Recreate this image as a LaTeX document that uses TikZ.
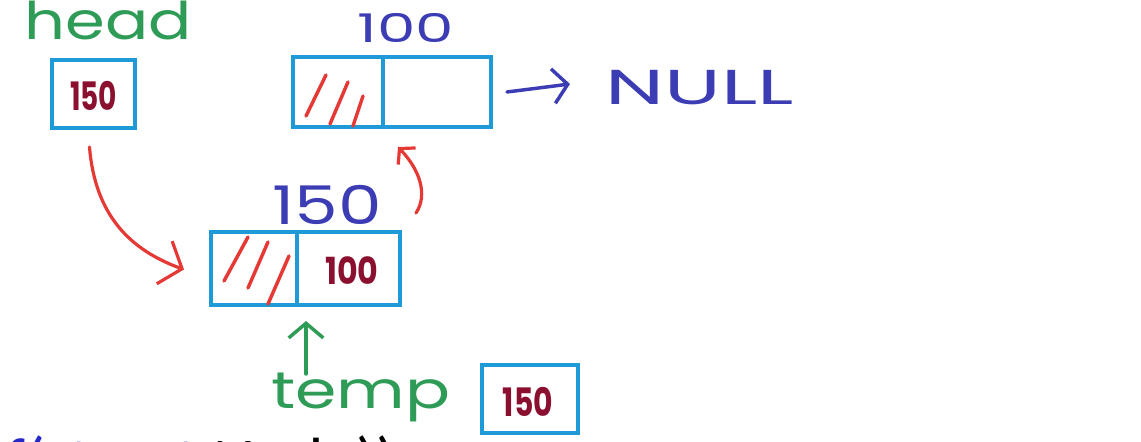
\documentclass[tikz,border=0pt]{standalone}
\usepackage{fontspec}
\setmainfont{Poppins}
\newfontfamily\codefont{Carlito}
\usetikzlibrary{arrows.meta,calc}
\definecolor{boxblue}{RGB}{30,154,214}
\definecolor{inkred}{RGB}{229,57,53}
\definecolor{darkred}{RGB}{139,16,48}
\definecolor{inkblue}{RGB}{60,60,180}
\definecolor{inkgreen}{RGB}{46,155,87}
\definecolor{codeblue}{RGB}{40,40,200}
\newcommand{\hw}[3]{\scalebox{#1}[#2]{#3}}
\begin{document}
\begin{tikzpicture}[x=0.75pt,y=-0.75pt,
  cell/.style={draw=boxblue, line width=3pt, inner sep=0pt, rectangle},
  hatch/.style={draw=inkred, line width=2.6pt, line cap=round},
  redarrow/.style={draw=inkred, line width=2.4pt, line cap=round, line join=round},
  bluearrow/.style={draw=inkblue, line width=2.6pt, line cap=round, line join=round},
  greenarrow/.style={draw=inkgreen, line width=2.6pt, line cap=round, line join=round},
  greentext/.style={text=inkgreen, inner sep=0pt},
  bluetext/.style={text=inkblue, inner sep=0pt},
  valtext/.style={text=darkred, inner sep=0pt, font=\fontsize{28}{28}\selectfont\bfseries}]
\useasboundingbox (0,0) rectangle (1141,442);

% head pointer
\node[greentext, font=\fontsize{30}{30}\selectfont] (headlbl) at (108,20) {\hw{1.6}{1.3}{head}};
\node[cell, minimum width=62.25pt, minimum height=51pt] (headbox) at (93.5,94) {};
\node[valtext] (headval) at (93.5,96) {\hw{0.75}{1.05}{150}};

% node at 100
\node[bluetext, font=\fontsize{27}{27}\selectfont] (lbl100) at (406,28) {\hw{1.7}{1.1}{100}};
\node[cell, minimum width=67.5pt, minimum height=52.5pt] (n100l) at (338,92) {};
\node[cell, minimum width=81pt, minimum height=52.5pt] (n100r) at (437,92) {};
\draw[hatch] (306,116) -- (326,75);
\draw[hatch] (330,124) -- (348,82);
\draw[hatch] (353,126) -- (363,96);

% NULL
\node[bluetext, font=\fontsize{35}{35}\selectfont, anchor=west] (null) at (605,88) {\hw{1.8}{1.05}{NULL}};
\draw[bluearrow, -{Straight Barb[length=11pt,width=26pt]}] ($(n100r.east)+(14,0)$) -- ($(null.west)+(-35,-4)$);

% node at 150
\node[bluetext, font=\fontsize{40}{40}\selectfont] (lbl150) at (327,205) {\hw{1.3}{1.0}{150}};
\node[cell, minimum width=64.5pt, minimum height=54.75pt] (n150l) at (254,268.5) {};
\node[cell, minimum width=77.25pt, minimum height=54.75pt] (n150r) at (348.5,268.5) {};
\node[valtext] (n150val) at (352,271) {\hw{0.85}{1.0}{100}};
\draw[hatch] (224,281) -- (248,237);
\draw[hatch] (248,288) -- (268,242);
\draw[hatch] (268,304) -- (289,256);

% arrows
\draw[redarrow, -{Straight Barb[length=14pt,width=34pt]}]
  ($(headbox.south)+(-4,17)$) .. controls (95,215) and (130,250) .. ($(n150l.west)+(-25,1)$);
\draw[redarrow, -{Straight Barb[length=8pt,width=18pt]}]
  ($(n150r.north east)+(14,-17)$) .. controls (428,195) and (420,170) .. ($(n100r.south west)+(17,18)$);

% temp pointer
\node[greentext, font=\fontsize{37}{37}\selectfont] (templbl) at (361,397) {\hw{1.35}{1.05}{temp}};
\node[cell, minimum width=72pt, minimum height=51pt] (tempbox) at (530,399) {};
\node[valtext] (tempval) at (528,402) {\hw{0.8}{1.05}{150}};
\draw[greenarrow, -{Straight Barb[length=11pt,width=26pt]}]
  ($(n150r.south west)+(11,67)$) -- ($(n150r.south west)+(11,14)$);

% code line (cut off at bottom)
\node[anchor=base west, inner sep=0pt, font=\codefont\fontsize{49}{49}\selectfont] (code) at (5,483)
  {\textcolor{codeblue}{f(struct} Node))};
\end{tikzpicture}
\end{document}
